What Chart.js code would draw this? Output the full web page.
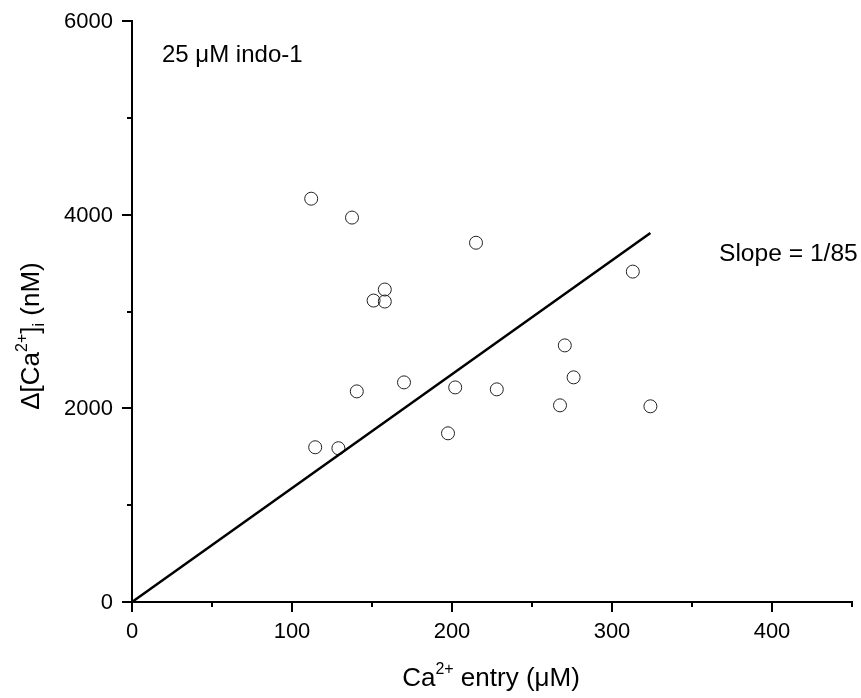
<!DOCTYPE html>
<html>
<head>
<meta charset="utf-8">
<script src="https://cdn.jsdelivr.net/npm/chart.js@4.4.1/dist/chart.umd.min.js"></script>
<style>
html,body{margin:0;padding:0;background:#fff;}
#wrap{width:861px;height:698px;position:relative;}
</style>
</head>
<body>
<div id="wrap"><canvas id="c" width="861" height="698"></canvas></div>
<script>
// Data
const caEntry = [112, 137.5, 215, 158, 151, 158, 270.5, 276, 170, 140.5, 202, 228, 267.5, 324, 197.5, 114.5, 129, 313];
const deltaCa = [4165, 3970, 3710, 3227, 3113, 3103, 2650, 2320, 2268, 2175, 2216, 2196, 2031, 2021, 1742, 1598, 1588, 3412];
const fitX = [0, 324];
const fitSlope = 1000 / 85; // nM per µM
const xMajorTicks = [0, 100, 200, 300, 400];
const xMinorTicks = [50, 150, 250, 350, 450];
const yMajorTicks = [0, 2000, 4000, 6000];
const yMinorTicks = [1000, 3000, 5000];

const FONT = '"Liberation Sans", Arial, sans-serif';

const points = caEntry.map((x, i) => ({x: x, y: deltaCa[i]}));
const fitLine = fitX.map(x => ({x: x, y: x * fitSlope}));

const decor = {
  id: 'decor',
  afterDraw(chart) {
    const ctx = chart.ctx;
    const xs = chart.scales.x, ys = chart.scales.y;
    ctx.save();
    ctx.strokeStyle = '#000';
    ctx.lineWidth = 2;
    const y0 = ys.getPixelForValue(0);
    const x0 = xs.getPixelForValue(0);
    const drawXT = (v, len) => {
      const p = Math.round(xs.getPixelForValue(v));
      ctx.beginPath(); ctx.moveTo(p, y0); ctx.lineTo(p, y0 + len); ctx.stroke();
    };
    xMajorTicks.forEach(v => drawXT(v, 10));
    xMinorTicks.forEach(v => drawXT(v, 5));
    const drawYT = (v, len) => {
      const p = Math.round(ys.getPixelForValue(v));
      ctx.beginPath(); ctx.moveTo(x0, p); ctx.lineTo(x0 - len, p); ctx.stroke();
    };
    yMajorTicks.forEach(v => drawYT(v, 10));
    yMinorTicks.forEach(v => drawYT(v, 5));

    ctx.fillStyle = '#000';
    // tick labels from the scales' ticks
    ctx.font = '22px ' + FONT;
    ctx.textBaseline = 'middle';
    ctx.textAlign = 'center';
    xs.ticks.forEach(t => ctx.fillText(String(t.value), xs.getPixelForValue(t.value), 632));
    ctx.textAlign = 'right';
    ys.ticks.forEach(t => ctx.fillText(String(t.value), 113, ys.getPixelForValue(t.value) + 1));

    ctx.textBaseline = 'alphabetic';
    ctx.font = '24px ' + FONT;
    ctx.textAlign = 'left';
    ctx.fillText('25 \u03BCM indo-1', 162, 62);
    ctx.font = '24.6px ' + FONT;
    ctx.fillText('Slope = 1/85', 719, 261);

    const drawRich = (parts, x, y) => {
      let w = 0;
      parts.forEach(p => { ctx.font = p[1] + 'px ' + FONT; w += ctx.measureText(p[0]).width; });
      let cx = x - w / 2;
      parts.forEach(p => {
        ctx.font = p[1] + 'px ' + FONT;
        ctx.fillText(p[0], cx, y + p[2]);
        cx += ctx.measureText(p[0]).width;
      });
    };
    drawRich([['Ca', 26, 0], ['2+', 16, -12], [' entry (\u03BCM)', 26, 0]], 491, 686);

    ctx.save();
    ctx.translate(39, 336);
    ctx.rotate(-Math.PI / 2);
    drawRich([['\u0394[Ca', 26, 0], ['2+', 16, -12], [']', 26, 0], ['i', 16, 5], [' (nM)', 26, 0]], 0, 0);
    ctx.restore();
    ctx.restore();
  }
};

new Chart(document.getElementById('c'), {
  data: {
    datasets: [
      {
        type: 'line',
        data: fitLine,
        borderColor: '#000',
        borderWidth: 2.5,
        pointRadius: 0,
        fill: false,
        tension: 0
      },
      {
        type: 'scatter',
        data: points,
        pointStyle: 'circle',
        pointRadius: 6.5,
        pointBorderWidth: 1,
        borderColor: '#222',
        backgroundColor: 'rgba(0,0,0,0)',
        pointBackgroundColor: 'rgba(0,0,0,0)',
        pointBorderColor: '#222'
      }
    ]
  },
  options: {
    responsive: false,
    animation: false,
    devicePixelRatio: 1,
    layout: {padding: {left: 0, top: 21, right: 9, bottom: 0}},
    plugins: {legend: {display: false}, tooltip: {enabled: false}},
    scales: {
      x: {
        type: 'linear',
        min: 0, max: 450,
        grid: {display: false},
        border: {display: true, color: '#000', width: 2},
        afterBuildTicks: s => { s.ticks = xMajorTicks.map(v => ({value: v})); },
        afterFit: s => { s.height = 96; },
        ticks: {display: false}
      },
      y: {
        type: 'linear',
        min: 0, max: 6000,
        grid: {display: false},
        border: {display: true, color: '#000', width: 2},
        afterBuildTicks: s => { s.ticks = yMajorTicks.map(v => ({value: v})); },
        afterFit: s => { s.width = 132; },
        ticks: {display: false}
      }
    }
  },
  plugins: [decor]
});
</script>
</body>
</html>
